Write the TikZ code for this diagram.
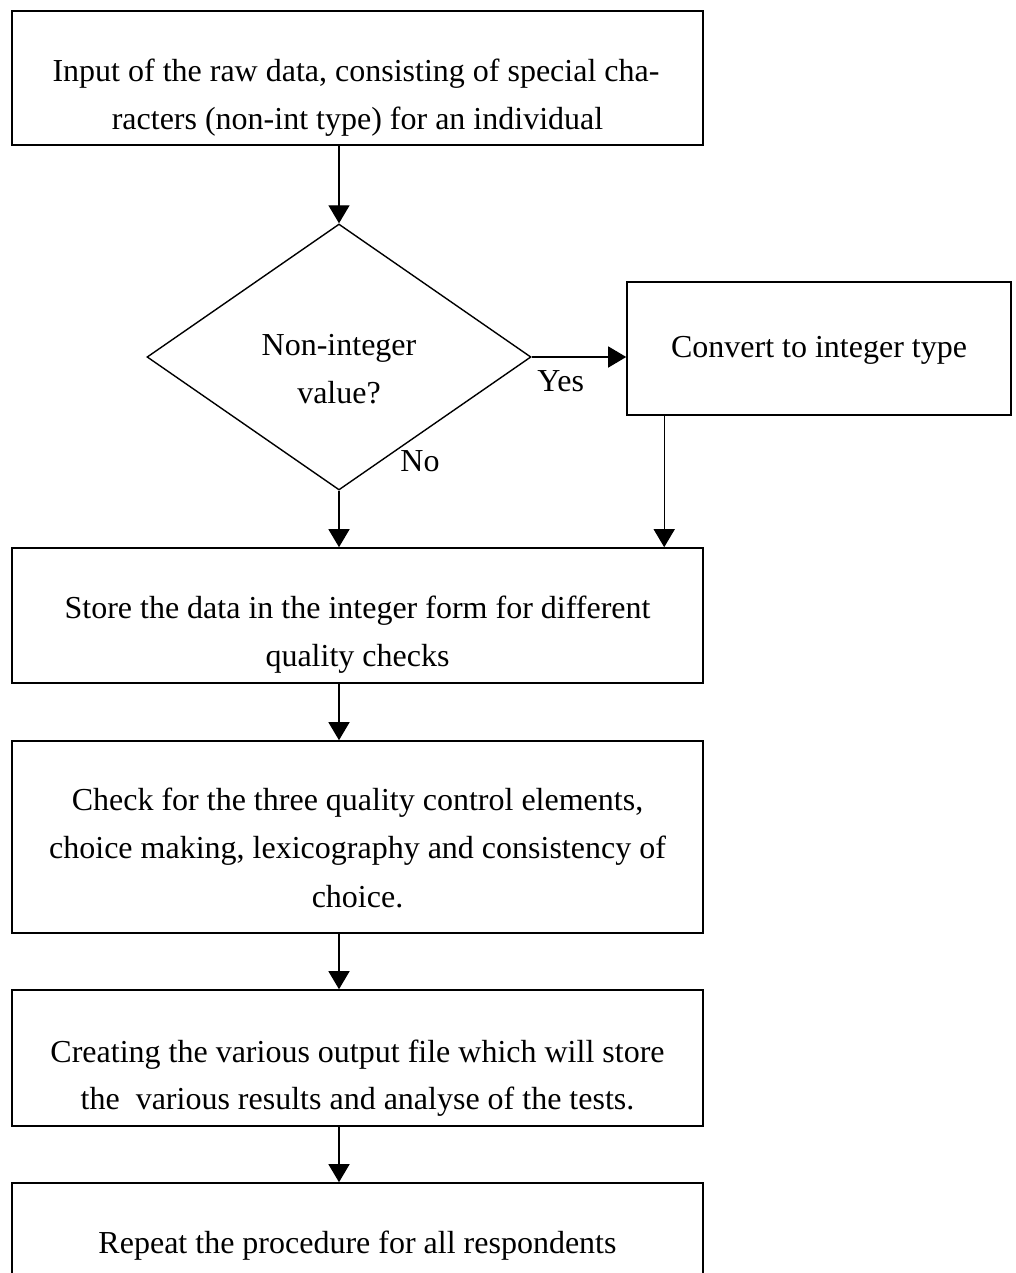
\documentclass[tikz,border=0pt]{standalone}
\usepackage{fontspec}
\setmainfont{Liberation Serif}
\usetikzlibrary{shapes.geometric,arrows.meta}
\begin{document}
\begin{tikzpicture}[x=0.5pt,y=-0.5pt,
  box/.style={draw,line width=0.8pt,inner sep=0pt,minimum width=345.5pt},
  txt/.style={anchor=base,inner sep=0pt,font=\fontsize{16pt}{24pt}\selectfont},
  lbl/.style={anchor=base west,inner sep=0pt,font=\fontsize{16pt}{24pt}\selectfont},
  arr/.style={line width=0.7pt,-{Triangle[width=10.5pt,length=9pt]}}]
\useasboundingbox (0,0) rectangle (1016,1273);
\fill[white] (0,0) rectangle (1016,1273);

% boxes
\node[box,minimum height=67pt] (input) at (357.5,78) {};
\node[txt] (input1) at (356,82) {Input of the raw data, consisting of special cha-};
\node[txt] (input2) at (357.5,130) {racters (non-int type) for an individual};

\node[draw,diamond,line width=0.7pt,inner sep=0pt,minimum width=192pt,minimum height=133pt] (dia) at (339,357) {};
\node[txt] (dia1) at (339,355) {Non-integer};
\node[txt] (dia2) at (339,403) {value?};

\node[box,minimum width=192pt,minimum height=66.5pt] (conv) at (819,348.5) {};
\node[txt] (conv1) at (819,357) {Convert to integer type};

\node[lbl] (yes) at (537,391) {Yes};
\node[lbl] (no) at (400,471) {No};

\node[box,minimum height=67.5pt] (store) at (357.5,615.5) {};
\node[txt] (store1) at (357.5,618) {Store the data in the integer form for different};
\node[txt] (store2) at (357.5,666) {quality checks};

\node[box,minimum height=96pt] (check) at (357.5,837) {};
\node[txt] (check1) at (357.5,810) {Check for the three quality control elements,};
\node[txt] (check2) at (357.5,858) {choice making, lexicography and consistency of};
\node[txt] (check3) at (357.5,907) {choice.};

\node[box,minimum height=68pt] (create) at (357.5,1058) {};
\node[txt] (create1) at (357.5,1062) {Creating the various output file which will store};
\node[txt] (create2) at (357.5,1109) {the~ various results and analyse of the tests.};

\node[box,minimum height=58.5pt] (repeat) at (357.5,1241.5) {};
\node[txt] (repeat1) at (357.5,1253) {Repeat the procedure for all respondents};

% connectors
\draw[arr] (dia.north |- input.south) -- (dia.north);
\draw[arr] (dia.east) -- (dia.east -| conv.west);
\draw[arr] (dia.south) -- (dia.south |- store.north);
\draw[arr] ([xshift=19pt]conv.south west) -- ([xshift=19pt]conv.south west |- store.north);
\draw[arr] (dia.south |- store.south) -- (dia.south |- check.north);
\draw[arr] (dia.south |- check.south) -- (dia.south |- create.north);
\draw[arr] (dia.south |- create.south) -- (dia.south |- repeat.north);
\end{tikzpicture}
\end{document}
